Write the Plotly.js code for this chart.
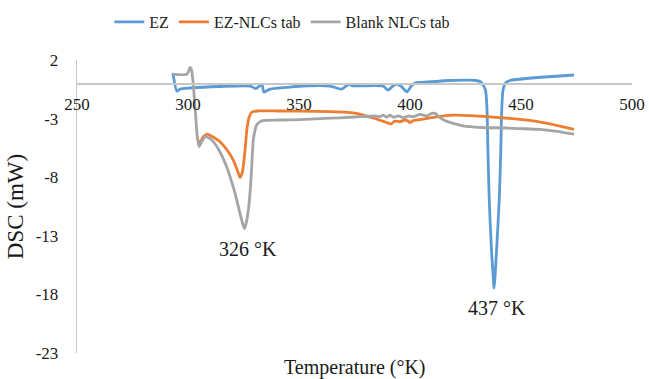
<!DOCTYPE html>
<html>
<head>
<meta charset="utf-8">
<script src="https://cdn.plot.ly/plotly-3.0.1.min.js"></script>
<style>html,body{margin:0;padding:0;background:#fff;}#chart{width:649px;height:379px;}</style>
</head>
<body>
<div id="chart"></div>
<script>
// EZ
const ezT = [293.2, 295.0, 296.4, 300.9, 314.4, 328.0, 330.6, 333.3, 334.2, 337.0, 346.0, 351.8, 364.0, 369.2, 372.5, 373.9, 387.8, 390.1, 392.3, 393.7, 395.9, 398.6, 400.9, 403.2, 404.5, 418.0, 429.7, 432.0, 434.0, 434.7, 435.1, 435.7, 436.7, 437.6, 437.8, 438.2, 439.0, 440.2, 440.9, 441.3, 441.9, 443.0, 445.0, 473.9];
const ezY = [0.89, -0.65, -0.48, -0.39, -0.26, -0.22, -0.44, -0.09, -0.73, -0.48, -0.31, -0.22, -0.22, -0.48, -0.08, -0.20, -0.22, -0.56, -0.22, -0.08, -0.22, -0.71, -0.14, 0.09, 0.08, 0.25, 0.25, 0.12, -0.56, -2.3, -5.7, -9.95, -14.2, -16.8, -17.46, -16.8, -14.2, -9.95, -5.7, -2.3, -0.56, 0.03, 0.25, 0.72];
// EZ-NLCs tab
const nlcT = [304.5, 305.4, 306.8, 308.6, 311.3, 314.4, 317.6, 320.4, 322.5, 323.4, 324.5, 325.7, 326.6, 327.6, 328.8, 331.5, 341.4, 350.5, 364.0, 370.7, 375.2, 379.7, 384.2, 388.8, 391.4, 393.2, 395.5, 397.7, 399.1, 400.0, 401.4, 404.5, 411.3, 419.4, 427.0, 434.7, 442.8, 449.5, 456.3, 463.1, 468.5, 473.9];
const nlcY = [-4.91, -5.04, -4.57, -4.32, -4.57, -4.97, -5.68, -6.54, -7.56, -8.01, -7.56, -5.68, -3.81, -2.84, -2.44, -2.35, -2.35, -2.36, -2.40, -2.44, -2.53, -2.74, -2.99, -3.29, -3.46, -3.21, -3.27, -3.12, -3.21, -3.35, -3.17, -3.08, -2.87, -2.70, -2.74, -2.84, -2.95, -3.06, -3.21, -3.46, -3.68, -3.92];
// Blank NLCs tab
const blankT = [293.2, 299.5, 300.5, 300.9, 301.6, 302.4, 302.9, 303.6, 304.1, 305.0, 305.9, 307.7, 309.5, 311.4, 314.4, 317.4, 319.4, 321.2, 323.4, 324.8, 325.4, 326.1, 327.2, 328.2, 328.7, 329.4, 330.2, 330.9, 333.2, 341.4, 350.5, 359.5, 368.5, 377.5, 384.2, 386.5, 388.0, 389.5, 391.0, 392.5, 394.7, 397.0, 399.2, 401.5, 404.5, 407.5, 409.9, 411.3, 413.5, 416.2, 419.4, 423.4, 427.0, 434.5, 440.5, 449.5, 458.6, 465.3, 473.9];
const blankY = [0.78, 0.78, 1.14, 1.37, 1.14, -0.14, -1.42, -3.12, -4.40, -5.40, -5.09, -4.55, -4.66, -4.97, -5.85, -7.11, -8.24, -9.38, -11.08, -12.08, -12.38, -12.00, -10.80, -8.67, -7.11, -4.83, -3.98, -3.55, -3.18, -3.12, -3.08, -3.00, -2.93, -2.84, -2.78, -2.84, -2.70, -2.89, -2.70, -2.89, -2.76, -2.93, -2.78, -2.84, -2.64, -2.76, -2.55, -2.55, -2.91, -3.21, -3.40, -3.59, -3.69, -3.78, -3.78, -3.85, -3.92, -4.06, -4.32];

const seriesNames = ['EZ', 'EZ-NLCs tab', 'Blank NLCs tab'];
const xTickVals = [250, 300, 350, 400, 450, 500];
const xTickText = ['250', '300', '350', '400', '450', '500'];
const yTickVals = [2, -3, -8, -13, -18, -23];
const yTickText = ['2', '-3', '-8', '-13', '-18', '-23'];
const peakLabels = [{t: 327.0, y: -14.13, text: '326 °K'}, {t: 439.2, y: -19.16, text: '437 °K'}];

const FONT = 'Liberation Serif';
const ink = '#1a1a1a';

const traces = [
  {x: ezT, y: ezY, name: seriesNames[0], mode: 'lines', line: {color: '#5b9bd5', width: 2.8, shape: 'spline', smoothing: 0.6}},
  {x: nlcT, y: nlcY, name: seriesNames[1], mode: 'lines', line: {color: '#ed7d31', width: 2.8, shape: 'spline', smoothing: 0.6}},
  {x: blankT, y: blankY, name: seriesNames[2], mode: 'lines', line: {color: '#a5a5a5', width: 2.8, shape: 'spline', smoothing: 0.6}}
];

const annotations = peakLabels.map(p => ({
  x: p.t, y: p.y, xref: 'x', yref: 'y', text: p.text, showarrow: false,
  font: {family: FONT, size: 20, color: ink}, xanchor: 'center', yanchor: 'middle'
}));
annotations.push({
  x: 0.5, y: -0.05, xref: 'paper', yref: 'paper', text: 'Temperature (°K)', showarrow: false,
  font: {family: FONT, size: 20, color: ink}, xanchor: 'center', yanchor: 'middle'
});

const layout = {
  width: 649, height: 379,
  margin: {l: 77, r: 17, t: 60, b: 26, autoexpand: false},
  paper_bgcolor: '#fff', plot_bgcolor: '#fff',
  font: {family: FONT, color: ink},
  showlegend: true,
  legend: {orientation: 'h', x: 0.37, xanchor: 'center', y: 0.942, yref: 'container', yanchor: 'middle',
           font: {family: FONT, size: 16, color: ink}, itemwidth: 30, tracegroupgap: 0},
  xaxis: {
    range: [250, 500], tickmode: 'array', tickvals: xTickVals, ticktext: xTickText,
    anchor: 'free', position: 0.92,
    showline: true, linecolor: '#c8c8c8', linewidth: 1.3, showgrid: false, zeroline: false,
    ticks: 'outside', ticklen: 5, tickcolor: 'rgba(0,0,0,0)',
    tickfont: {family: FONT, size: 17, color: ink}, automargin: false
  },
  yaxis: {
    range: [-23, 2], tickmode: 'array', tickvals: yTickVals, ticktext: yTickText,
    showline: true, linecolor: '#c8c8c8', linewidth: 1.3, showgrid: false, zeroline: false,
    ticks: 'outside', ticklen: 14, tickcolor: 'rgba(0,0,0,0)',
    tickfont: {family: FONT, size: 17, color: ink}, automargin: false,
    title: {text: 'DSC (mW)', font: {family: FONT, size: 23, color: ink}, standoff: 5}
  },
  annotations: annotations
};

Plotly.newPlot('chart', traces, layout, {staticPlot: true, displayModeBar: false});
</script>
</body>
</html>
